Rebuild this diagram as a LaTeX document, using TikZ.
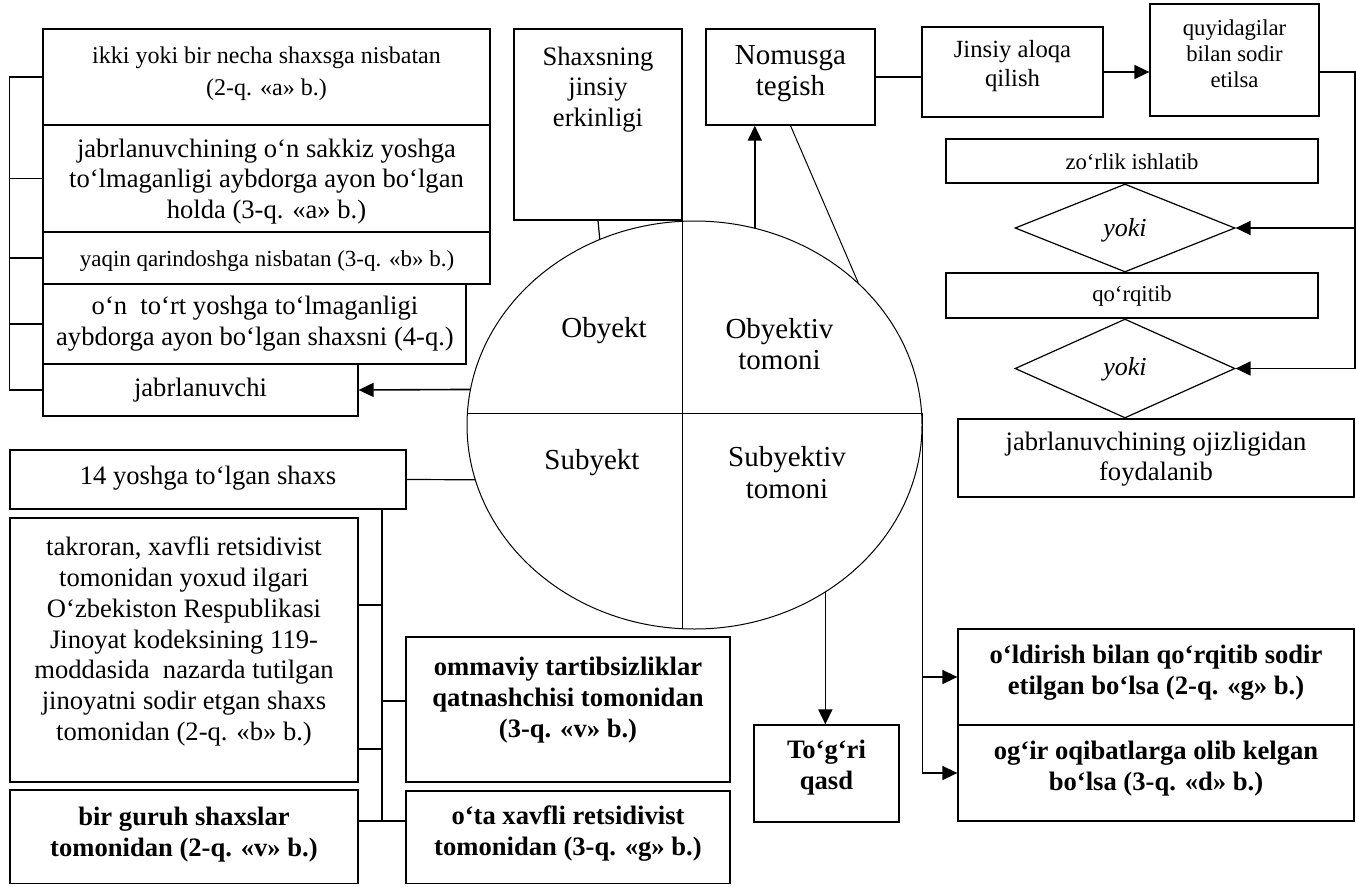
\documentclass[tikz,border=0pt]{standalone}
\usepackage{fontspec}
\setmainfont{Liberation Serif}
\usetikzlibrary{shapes.geometric,arrows.meta,fit}
\newcommand\fA{\fontsize{29}{31.5}\selectfont}
\newcommand\fB{\fontsize{26.6}{30.5}\selectfont}
\newcommand\fBb{\fontsize{26.6}{31}\selectfont\bfseries}
\newcommand\fC{\fontsize{22.7}{26}\selectfont}
\newcommand\fD{\fontsize{24}{32}\selectfont}
\newcommand\fE{\fontsize{23}{26}\selectfont}
\newcommand\fJ{\fontsize{24.7}{29}\selectfont}
\newcommand\fY{\fontsize{26}{28}\selectfont\itshape}
\newcommand\mybox[5]{\node[bx, fit={(#2,#3) (#4,#5)}] (#1) {};}
\tikzset{
  bx/.style={draw, line width=1.3pt, inner sep=0pt, rectangle},
  ln/.style={line width=1.2pt},
  thinln/.style={line width=1pt},
  arr/.style={line width=1.6pt, -{Triangle[length=15pt,width=14pt]}},
  tx/.style={inner sep=0pt, align=center},
  dia/.style={draw, diamond, line width=1.2pt, inner sep=0pt},
}
\begin{document}
\begin{tikzpicture}[x=1pt,y=-1pt]
\useasboundingbox (0,0) rectangle (1356,886);
% ---------- left upper group
\mybox{b1}{43}{29}{490}{125}
\mybox{b2}{43}{125}{490}{232}
\mybox{b3}{43}{232}{490}{284}
\mybox{b4}{43}{284}{466}{364}
\mybox{b5}{43}{364}{358}{416}
\node[tx,font=\fD] (b1t) at (266.5,73.5) {ikki yoki bir necha shaxsga nisbatan\\(2-q. «a» b.)};
\node[tx,font=\fB] (b2t) at (266.5,181.5) {jabrlanuvchining o‘n sakkiz yoshga\\to‘lmaganligi aybdorga ayon bo‘lgan\\holda (3-q. «a» b.)};
\node[tx,font=\fE] (b3t) at (267,261) {yaqin qarindoshga nisbatan (3-q. «b» b.)};
\node[tx,font=\fB] (b4t) at (255,323.5) {o‘n\ \ to‘rt yoshga to‘lmaganligi\\aybdorga ayon bo‘lgan shaxsni (4-q.)};
\node[tx,font=\fB] (b5t) at (200.5,390) {jabrlanuvchi};
\draw[ln] (b1.west) -- ++(-33,0) coordinate (lb) |- (b5.west);
\foreach \n in {b2,b3,b4} \draw[ln] (\n.west) -- (\n.west -| lb);
% ---------- centre
\mybox{sj}{514}{29}{682}{220}
\node[tx,font=\fB,anchor=north] (sjt) at (598,46.7) {Shaxsning\\jinsiy\\erkinligi};
\mybox{nt}{706}{29}{875}{125}
\node[tx,font=\fA] (ntt) at (790.5,73.5) {Nomusga\\tegish};
\node[draw, ellipse, line width=1pt, minimum width=455pt, minimum height=408pt, inner sep=0pt] (E) at (694.5,425) {};
\draw[thinln] (682,221.5) -- (682,628.5);
\draw[thinln] (467.4,413) -- (921.6,413);
\node[tx,font=\fA] (eo) at (604,331) {Obyekt};
\node[tx,font=\fA] (eot) at (779.5,344) {Obyektiv\\tomoni};
\node[tx,font=\fA] (es) at (592,463) {Subyekt};
\node[tx,font=\fA] (est) at (787,472.5) {Subyektiv\\tomoni};
\draw[ln] (sj.south) -- (E.117.6);
\draw[arr] (E.73.2) -- (E.73.2 |- nt.south);
\draw[thinln] (nt.south) -- (E.41.3);
\draw[arr] (E.171.1) -- (b5.east);
% ---------- right upper group
\mybox{ja}{922}{27}{1103}{117}
\node[tx,font=\fJ] (jat) at (1012.5,66.5) {Jinsiy aloqa\\qilish};
\mybox{qb}{1150}{4}{1319}{116}
\node[tx,font=\fC] (qbt) at (1234.5,54) {quyidagilar\\bilan sodir\\etilsa};
\mybox{zb}{946}{139}{1318}{183}
\node[tx,font=\fC] (zbt) at (1132,162) {zo‘rlik ishlatib};
\node[dia, minimum width=220pt, minimum height=88pt] (d1) at (1125,228) {};
\node[tx,font=\fY] (d1t) at (1125,230) {yoki};
\mybox{qq}{946}{273}{1318}{318}
\node[tx,font=\fC] (qqt) at (1132,296) {qo‘rqitib};
\node[dia, minimum width=220pt, minimum height=99pt] (d2) at (1125,368.5) {};
\node[tx,font=\fY] (d2t) at (1125,369) {yoki};
\mybox{jo}{958}{419}{1354}{497}
\node[tx,font=\fB] (jot) at (1156,459) {jabrlanuvchining ojizligidan\\foydalanib};
\draw[ln] (nt.east) -- (nt.east -| ja.west);
\draw[arr] (ja.east) -- (ja.east -| qb.west);
\coordinate (rt) at (1355,72);
\draw[ln] (qb.east |- ja.east) -- (rt) -- (rt |- d2.east);
\draw[arr] (rt |- d1.east) -- (d1.east);
\draw[arr] (rt |- d2.east) -- (d2.east);
% ---------- right lower group
\mybox{ol}{958}{629}{1354}{725}
\node[tx,font=\fBb] (olt) at (1156,673) {o‘ldirish bilan qo‘rqitib sodir\\etilgan bo‘lsa (2-q. «g» b.)};
\mybox{og}{958}{725}{1354}{821}
\node[tx,font=\fBb] (ogt) at (1156,769) {og‘ir oqibatlarga olib kelgan\\bo‘lsa (3-q. «d» b.)};
\draw[ln] (E.3.02) -- (E.3.02 |- og.west);
\draw[arr] (E.3.02 |- ol.west) -- (ol.west);
\draw[arr] (E.3.02 |- og.west) -- (og.west);
\mybox{tq}{754}{725}{899}{822}
\node[tx,font=\fBb] (tqt) at (826.5,768) {To‘g‘ri\\qasd};
\draw[arr] (E.308.3) -- (E.308.3 |- tq.north);
% ---------- left lower group
\mybox{ys}{10}{450}{406}{509}
\node[tx,font=\fB] (yst) at (208,478) {14 yoshga to‘lgan shaxs};
\draw[ln] (ys.east) -- (E.194);
\mybox{tk}{10}{518}{358}{782}
\node[tx,font=\fontsize{26.6}{30.7}\selectfont,anchor=north] (tkt) at (184,537) {takroran, xavfli retsidivist\\tomonidan yoxud ilgari\\O‘zbekiston Respublikasi\\Jinoyat kodeksining 119-\\moddasida\ \ nazarda tutilgan\\jinoyatni sodir etgan shaxs\\tomonidan (2-q. «b» b.)};
\mybox{bg}{10}{790}{358}{883.5}
\node[tx,font=\fBb] (bgt) at (184,835) {bir guruh shaxslar\\tomonidan (2-q. «v» b.)};
\mybox{om}{406}{637}{730}{782}
\node[tx,font=\fBb,anchor=north] (omt) at (568,657) {ommaviy tartibsizliklar\\qatnashchisi tomonidan\\(3-q. «v» b.)};
\mybox{ot}{406}{791}{730}{883.5}
\node[tx,font=\fBb] (ott) at (568,834) {o‘ta xavfli retsidivist\\tomonidan (3-q. «g» b.)};
\coordinate (vt) at (382,509);
\coordinate (vb) at (382,821);
\draw[ln] (vt) -- (vb);
\draw[ln] (tk.east) ++(0,-45) coordinate (k1) -- (k1 -| vt);
\draw[ln] (tk.east) ++(0,99) coordinate (k2) -- (k2 -| vt);
\draw[ln] (om.west) ++(0,-8.5) coordinate (k3) -- (k3 -| vt);
\draw[ln] (bg.east) ++(0,-15.75) coordinate (k4) -- (k4 -| ot.west);
\end{tikzpicture}
\end{document}
